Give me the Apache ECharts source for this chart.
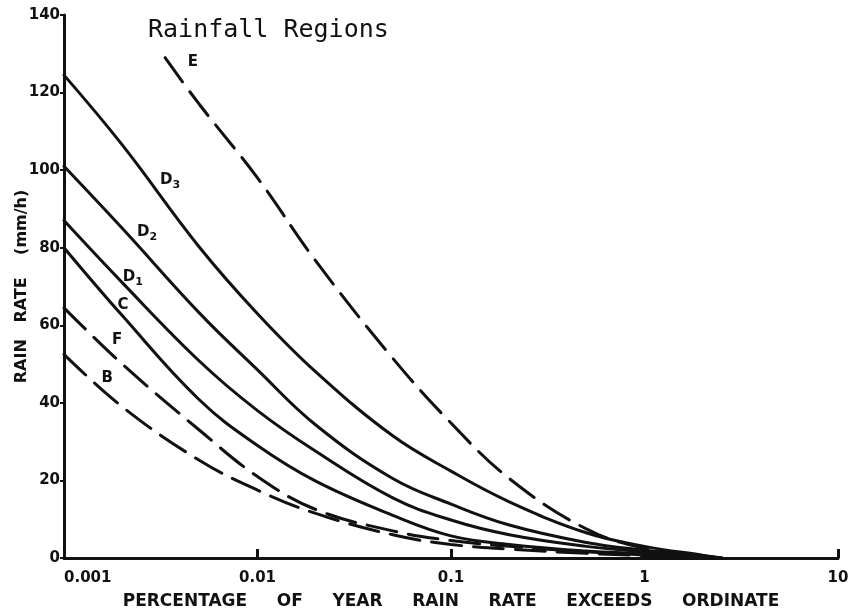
<!DOCTYPE html>
<html>
<head>
<meta charset="utf-8">
<script src="https://cdn.jsdelivr.net/npm/echarts@6/dist/echarts.min.js"></script>
<style>
html,body{margin:0;padding:0;background:#fff;}
#chart{width:854px;height:613px;}
</style>
</head>
<body>
<div id="chart"></div>
<script>
// ---- data (percentage of year, rain rate mm/h) ----
const pct = [0.001, 0.002, 0.005, 0.01, 0.02, 0.05, 0.1, 0.2, 0.5, 1, 2, 2.5];
const ePct = [0.00333, 0.005, 0.01, 0.02, 0.05, 0.1, 0.2, 0.5, 1, 2, 2.5];
const regionE  = [129, 117, 98, 76.6, 51.5, 34.8, 20.5, 7.5, 2.5, 0.5, 0];
const regionD3 = [124.5, 106.5, 80.2, 63, 48, 31.5, 22.4, 14.5, 6.5, 3, 0.7, 0];
const regionD2 = [101, 85, 63.2, 48.5, 34.3, 20.5, 13.9, 8.5, 4, 2, 0.5, 0];
const regionD1 = [87, 71, 50.8, 38, 27.5, 15.5, 9.8, 6, 3, 1.6, 0.4, 0];
const regionC  = [80, 62.5, 40.8, 29, 19.8, 11, 5.7, 3.5, 1.8, 1.1, 0.3, 0];
const regionF  = [64.5, 50, 33, 21, 12.5, 7, 4.5, 3, 1.6, 0.8, 0.2, 0];
const regionB  = [52.5, 39, 25.2, 17.5, 11.5, 6, 3.5, 2.3, 1.2, 0.6, 0.1, 0];

const xTickValues = [0.001, 0.01, 0.1, 1, 10];
const xTickLabels = ['0.001', '0.01', '0.1', '1', '10'];
const yTicks = [0, 20, 40, 60, 80, 100, 120, 140];

// curve label anchors (data coords) and label text
const labelNames = ['E', 'D3', 'D2', 'D1', 'C', 'F', 'B'];
const labelX = [0.00464, 0.00353, 0.00269, 0.00227, 0.00202, 0.00188, 0.00167];
const labelY = [127.9, 97.4, 84, 72.4, 65.2, 56.2, 46.4];

const INK = '#111';
function pairs(xs, ys) { return xs.map((x, i) => [x, ys[i]]); }

const curves = [
  {name: 'E',  x: ePct, y: regionE,  dash: [30, 12]},
  {name: 'D3', x: pct,  y: regionD3, dash: 'solid'},
  {name: 'D2', x: pct,  y: regionD2, dash: 'solid'},
  {name: 'D1', x: pct,  y: regionD1, dash: 'solid'},
  {name: 'C',  x: pct,  y: regionC,  dash: 'solid'},
  {name: 'F',  x: pct,  y: regionF,  dash: [30, 12]},
  {name: 'B',  x: pct,  y: regionB,  dash: [30, 12]}
];

const series = curves.map(c => ({
  type: 'line',
  name: c.name,
  data: pairs(c.x, c.y),
  smooth: 0.4,
  symbol: 'none',
  silent: true,
  lineStyle: {color: INK, width: 3, type: c.dash, cap: 'round'}
}));

function labelText(n) {
  if (n.length === 2) return '{m|' + n[0] + '}{s|' + n[1] + '}';
  return '{m|' + n + '}';
}

series.push({
  type: 'scatter',
  silent: true,
  symbolSize: 0,
  itemStyle: {opacity: 1, color: INK},
  data: labelNames.map((n, i) => ({value: [labelX[i], labelY[i]], name: n})),
  label: {
    show: true,
    position: 'inside',
    color: INK,
    opacity: 1,
    formatter: p => labelText(p.name),
    rich: {
      m: {fontFamily: 'DejaVu Sans', fontWeight: 'bold', fontSize: 15, color: INK},
      s: {fontFamily: 'DejaVu Sans', fontWeight: 'bold', fontSize: 11, color: INK, padding: [10, 0, 0, 0]}
    }
  }
});

const chart = echarts.init(document.getElementById('chart'), null, {renderer: 'canvas'});
chart.setOption({
  animation: false,
  backgroundColor: '#fff',
  title: {
    text: 'Rainfall Regions',
    left: 143, top: 13,
    textStyle: {fontFamily: 'DejaVu Sans Mono', fontWeight: 'normal', fontSize: 25, color: INK}
  },
  grid: {left: 64, right: 16, top: 15, bottom: 55, containLabel: false, outerBoundsMode: 'none'},
  xAxis: {
    type: 'log',
    logBase: 10,
    min: 0.001,
    max: 10,
    name: 'PERCENTAGE     OF     YEAR     RAIN     RATE     EXCEEDS     ORDINATE',
    nameLocation: 'middle',
    nameGap: 35,
    nameTextStyle: {fontFamily: 'DejaVu Sans', fontWeight: 'bold', fontSize: 17, color: INK},
    axisLine: {show: true, lineStyle: {color: INK, width: 3}},
    axisTick: {show: true, inside: true, length: 9, lineStyle: {color: INK, width: 3}},
    minorTick: {show: false},
    splitLine: {show: false},
    axisLabel: {
      margin: 13,
      alignMinLabel: 'left',
      fontFamily: 'DejaVu Sans', fontWeight: 'bold', fontSize: 15, color: INK,
      formatter: v => {
        for (let i = 0; i < xTickValues.length; i++) {
          if (Math.abs(Math.log10(v) - Math.log10(xTickValues[i])) < 1e-6) return xTickLabels[i];
        }
        return '';
      }
    }
  },
  yAxis: {
    type: 'value',
    min: 0,
    max: 140,
    interval: 20,
    name: 'RAIN   RATE    (mm/h)',
    nameLocation: 'middle',
    nameGap: 34,
    nameMoveOverlap: false,
    nameRotate: 90,
    nameTextStyle: {fontFamily: 'DejaVu Sans', fontWeight: 'bold', fontSize: 16, color: INK},
    axisLine: {show: true, lineStyle: {color: INK, width: 3}},
    axisTick: {show: true, inside: false, length: 4, lineStyle: {color: INK, width: 2}},
    splitLine: {show: false},
    axisLabel: {
      margin: 4,
      fontFamily: 'DejaVu Sans', fontWeight: 'bold', fontSize: 15, color: INK,
      formatter: v => yTicks.indexOf(v) >= 0 ? String(v) : ''
    }
  },
  series: series
});
</script>
</body>
</html>
